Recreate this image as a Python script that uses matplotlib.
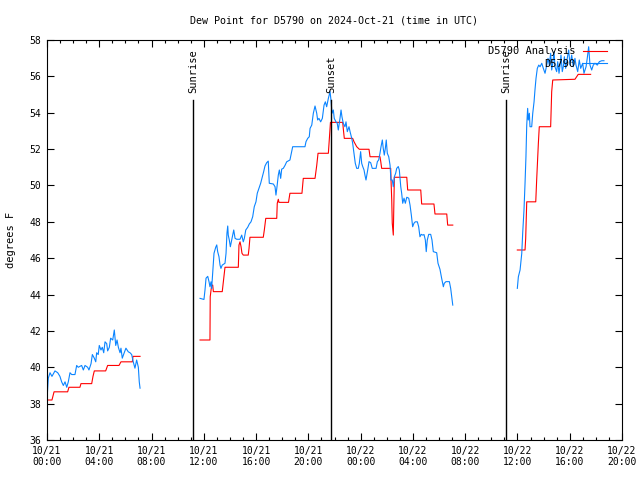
import matplotlib
matplotlib.use("Agg")
import matplotlib.pyplot as plt
from matplotlib.ticker import MultipleLocator

# hours since 2024-10-21 00:00 UTC, dew point in F
obs_t1 = [0.0, 0.10, 0.23, 0.38, 0.61, 0.82, 0.99, 1.12, 1.25, 1.38, 1.51, 1.63, 1.76, 1.89,
          2.14, 2.27, 2.39, 2.65, 2.78, 2.91, 3.11, 3.21, 3.37, 3.47, 3.62, 3.73, 3.80, 3.92,
          4.00, 4.13, 4.23, 4.34, 4.44, 4.57, 4.64, 4.77, 4.87, 5.03, 5.15, 5.26, 5.36, 5.46,
          5.59, 5.66, 5.76, 5.91, 6.04, 6.22, 6.35, 6.48, 6.60, 6.73, 6.86, 6.99, 7.06, 7.12]
obs_v1 = [38.2, 39.4, 39.7, 39.5, 39.8, 39.7, 39.5, 39.2, 39.0, 39.2, 38.9, 39.2, 39.7, 39.6,
          39.6, 40.1, 40.0, 40.1, 39.85, 40.1, 40.0, 39.85, 40.2, 40.7, 40.5, 40.3, 40.8, 40.7,
          41.2, 40.95, 41.1, 40.8, 41.4, 41.3, 40.9, 41.1, 41.6, 41.5, 42.05, 41.2, 41.5, 41.1,
          40.8, 41.05, 40.5, 40.8, 41.05, 40.85, 40.8, 40.7, 40.3, 39.95, 40.4, 40.0, 39.2, 38.85]

obs_t2 = [11.71, 12.01, 12.09, 12.17, 12.30, 12.40, 12.47, 12.55, 12.60, 12.68, 12.78, 12.91,
          12.99, 13.06, 13.16, 13.24, 13.31, 13.41, 13.62, 13.70, 13.77, 13.83, 13.87, 13.95,
          14.03, 14.13, 14.21, 14.29, 14.39, 14.52, 14.77, 14.90, 15.02, 15.10, 15.21, 15.36,
          15.48, 15.61, 15.74, 15.86, 15.99, 16.09, 16.22, 16.35, 16.48, 16.58, 16.68, 16.81,
          16.93, 17.01, 17.32, 17.45, 17.52, 17.60, 17.70, 17.78, 17.88, 17.96, 18.08, 18.21,
          18.34, 18.59, 18.80, 19.74, 19.82, 19.95, 20.07, 20.13, 20.26, 20.38, 20.51, 20.64,
          20.71, 20.81, 20.94, 21.07, 21.20, 21.30, 21.40, 21.53, 21.66, 21.73, 21.81, 21.91,
          21.98, 22.11, 22.21, 22.29, 22.42, 22.50, 22.57, 22.67, 22.80, 22.88, 22.98, 23.11,
          23.19, 23.32, 23.39, 23.49, 23.59, 23.70, 23.82, 23.90, 24.00, 24.08, 24.16, 24.26,
          24.33, 24.41, 24.54, 24.64, 24.77, 24.89, 25.18, 25.28, 25.38, 25.48, 25.56, 25.66,
          25.73, 25.81, 25.89, 25.96, 26.04, 26.15, 26.25, 26.32, 26.42, 26.50, 26.58, 26.68,
          26.76, 26.88, 26.96, 27.07, 27.14, 27.22, 27.32, 27.42, 27.53, 27.68, 27.78, 27.88,
          27.98, 28.08, 28.18, 28.34, 28.44, 28.54, 28.64, 28.75, 28.85, 28.95, 29.02, 29.10,
          29.21, 29.36, 29.46, 29.56, 29.82, 29.92, 30.07, 30.20, 30.33, 30.40, 30.53, 30.79,
          30.89, 30.97, 31.05]
obs_v2 = [43.79, 43.73, 44.25, 44.9, 45.0, 44.7, 44.43, 44.7, 44.34, 45.17, 46.27, 46.6,
          46.73, 46.36, 46.08, 45.62, 45.44, 45.62, 45.72, 46.27, 47.37, 47.77, 47.27, 47.0,
          46.63, 47.0, 47.27, 47.55, 47.09, 47.04, 47.04, 47.27, 46.9, 47.09, 47.55, 47.7,
          47.88, 48.0, 48.28, 48.83, 49.1, 49.57, 49.84, 50.12, 50.48, 50.76, 51.07, 51.25,
          51.34, 50.12, 50.08, 49.93, 49.47, 49.93, 50.57, 50.85, 50.39, 50.9, 50.94, 51.1,
          51.3, 51.4, 52.13, 52.13, 52.41, 52.59, 52.68, 53.14, 53.32, 53.97, 54.37, 53.97,
          53.6, 53.69, 53.5, 53.69, 54.42, 54.6, 54.33, 54.79, 55.16, 54.7, 53.97, 54.15,
          53.69, 53.5, 53.42, 53.05, 53.69, 54.15, 53.78, 53.42, 53.23, 53.5, 52.96, 53.23,
          52.96, 52.59, 52.32, 51.77, 51.22, 50.94, 50.94, 51.22, 51.86, 51.22, 51.04, 50.85,
          50.57, 50.3, 50.85, 51.31, 51.25, 50.94, 50.94, 51.31, 51.4, 51.77, 52.13, 52.5,
          52.04, 51.67, 52.04, 52.5, 51.77, 51.58, 51.12, 50.3, 50.3, 49.93, 50.48, 50.67,
          50.94, 51.04, 50.85, 49.93, 49.57, 49.02, 49.3, 49.02, 49.35, 49.3, 48.92, 48.37,
          47.73, 47.92, 48.0, 48.0, 47.73, 47.18, 47.31, 47.27, 47.3, 47.0, 46.36, 47.0,
          47.31, 47.31, 47.0, 46.36, 46.3, 45.72, 45.39, 44.89, 44.43, 44.62, 44.71, 44.71,
          44.34, 43.88, 43.42]

obs_t3 = [35.99, 36.07, 36.20, 36.33, 36.40, 36.50, 36.58, 36.65, 36.71, 36.78, 36.83, 36.91,
          36.96, 37.09, 37.17, 37.27, 37.34, 37.42, 37.52, 37.63, 37.73, 37.86, 37.98, 38.11,
          38.24, 38.34, 38.44, 38.54, 38.62, 38.70, 38.80, 38.87, 39.00, 39.08, 39.18, 39.26,
          39.33, 39.43, 39.51, 39.59, 39.69, 39.81, 39.92, 40.02, 40.15, 40.27, 40.40, 40.48,
          40.61, 40.73, 40.84, 40.99, 41.09, 41.25, 41.34, 41.45, 41.55, 41.68, 41.80, 41.93,
          42.11, 42.27, 42.45, 42.62]
obs_v3 = [44.34, 44.98, 45.35, 46.27, 47.37, 48.65, 50.12, 51.58, 53.32, 54.24, 53.6, 53.97,
          53.23, 53.23, 53.97, 54.6, 55.25, 55.89, 56.44, 56.62, 56.53, 56.72, 56.44, 56.17,
          56.62, 56.99, 56.62, 57.27, 56.35, 56.72, 57.36, 56.53, 56.26, 56.81, 56.17, 56.62,
          57.17, 56.26, 56.53, 57.08, 56.44, 56.99, 57.45, 56.62, 57.17, 56.53, 56.99, 56.62,
          56.26, 56.9, 56.44, 56.72, 56.17, 56.53, 56.99, 57.63, 56.62, 56.35, 56.62, 56.72,
          56.62, 56.81, 56.86, 56.86]

ana_t1 = [0.0, 0.38, 0.54, 1.58, 1.68, 2.52, 2.60, 3.42, 3.52, 3.62, 4.49, 4.64, 5.51, 5.66,
          6.53, 6.58, 7.12]
ana_v1 = [38.2, 38.2, 38.65, 38.65, 38.9, 38.9, 39.1, 39.1, 39.5, 39.8, 39.8, 40.1, 40.1, 40.3,
          40.3, 40.6, 40.6]

ana_t2 = [11.71, 12.47, 12.49, 12.60, 12.68, 12.73, 13.41, 13.51, 13.62, 14.64, 14.69, 14.77,
          14.85, 14.92, 15.02, 15.40, 15.46, 15.53, 16.55, 16.63, 16.74, 17.58, 17.62, 17.70,
          17.75, 18.48, 18.59, 19.51, 19.61, 20.51, 20.64, 20.74, 21.53, 21.66, 21.69, 22.63,
          22.67, 22.75, 23.39, 23.49, 23.70, 23.90, 24.64, 24.72, 25.48, 25.54, 25.61, 26.30,
          26.32, 26.38, 26.42, 26.50, 26.52, 26.58, 27.53, 27.60, 28.60, 28.67, 29.61, 29.69,
          30.59, 30.66, 31.05]
ana_v2 = [41.5, 41.5, 43.88, 44.52, 44.52, 44.16, 44.16, 44.8, 45.5, 45.5, 46.72, 46.9,
          46.63, 46.27, 46.17, 46.17, 46.54, 47.15, 47.15, 47.55, 48.19, 48.19, 49.02, 49.24,
          49.07, 49.07, 49.57, 49.57, 50.39, 50.39, 51.1, 51.77, 51.77, 53.14, 53.47, 53.47,
          53.14, 52.59, 52.59, 52.41, 52.13, 51.99, 51.99, 51.58, 51.58, 51.31, 50.94, 50.94,
          50.39, 49.2, 47.92, 47.27, 48.1, 50.45, 50.45, 49.75, 49.75, 48.98, 48.98, 48.43,
          48.43, 47.82, 47.82]

ana_t3 = [35.99, 36.58, 36.63, 36.71, 37.40, 37.47, 37.60, 37.67, 38.54, 38.62, 38.70, 40.40,
          40.53, 40.65, 41.60]
ana_v3 = [46.45, 46.45, 47.09, 49.1, 49.1, 50.3, 52.32, 53.23, 53.23, 55.16, 55.8, 55.84,
          55.98, 56.11, 56.11]

event_times = [11.17, 21.73, 35.12]
event_names = ["Sunrise", "Sunset", "Sunrise"]

tick_hours = [0, 4, 8, 12, 16, 20, 24, 28, 32, 36, 40, 44]
tick_labels = ["10/21\n00:00", "10/21\n04:00", "10/21\n08:00", "10/21\n12:00",
               "10/21\n16:00", "10/21\n20:00", "10/22\n00:00", "10/22\n04:00",
               "10/22\n08:00", "10/22\n12:00", "10/22\n16:00", "10/22\n20:00"]

BLUE = "#0a84ff"
RED = "#ff0000"
FONT = "DejaVu Sans Mono"

plt.rcParams["font.family"] = FONT
plt.rcParams["font.size"] = 7

fig = plt.figure(figsize=(6.4, 4.8), dpi=100)
ax = fig.add_axes([47 / 640, 40 / 480, 575 / 640, 400 / 480])

lw = 0.8
for t, v in [(ana_t1, ana_v1), (ana_t2, ana_v2), (ana_t3, ana_v3)]:
    ax.plot(t, v, color=RED, lw=lw)
for t, v in [(obs_t1, obs_v1), (obs_t2, obs_v2), (obs_t3, obs_v3)]:
    ax.plot(t, v, color=BLUE, lw=lw)

# sunrise / sunset markers
for t, name in zip(event_times, event_names):
    ax.plot([t, t], [36, 54.7], color="black", lw=1.0)
    ax.text(t + 0.05, 55.1, name, rotation=90, ha="center", va="bottom", fontsize=7.5)

# legend, gnuplot style (text then sample)
ax.plot([], [], color=RED, lw=lw, label="D5790 Analysis")
ax.plot([], [], color=BLUE, lw=lw, label="D5790")
handles, labels = ax.get_legend_handles_labels()
ax.legend(handles[-2:], labels[-2:], loc="upper right", bbox_to_anchor=(1 - 9 / 575, 1),
          frameon=False, markerfirst=False, fontsize=7.5, handlelength=2.3,
          handletextpad=0.7, labelspacing=0.25, borderaxespad=0.3, borderpad=0.3)

ax.set_xlim(0, 44)
ax.set_ylim(36, 58)
ax.set_xticks(tick_hours)
ax.set_xticklabels(tick_labels)
ax.xaxis.set_minor_locator(MultipleLocator(1))
ax.yaxis.set_major_locator(MultipleLocator(2))
ax.tick_params(which="both", direction="in", top=True, right=True, width=0.8)
ax.tick_params(which="major", length=5, pad=4)
ax.tick_params(which="minor", length=2.5)
for s in ax.spines.values():
    s.set_linewidth(0.8)

ax.set_ylabel("degrees F", fontsize=7.5, labelpad=10)
ax.set_title("Dew Point for D5790 on 2024-Oct-21 (time in UTC)", fontsize=7.2, pad=12)

fig.savefig("out.png", dpi=100)
